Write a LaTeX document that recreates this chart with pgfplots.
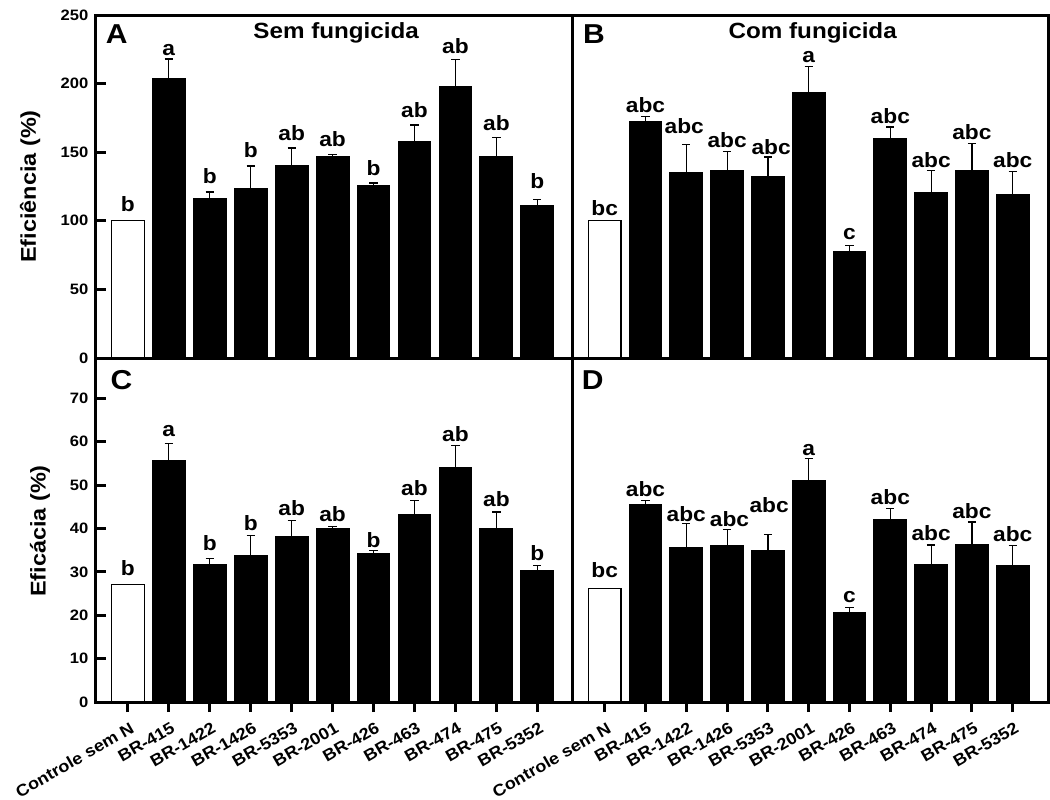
\documentclass[border=0pt]{standalone}
\usepackage{pgfplots}
\pgfplotsset{compat=1.18}
\usepackage{pgfplotstable}
\usepackage{fontspec}
\setmainfont[FakeStretch=1.1]{Liberation Sans}

% Controle sem N (x, value) for each panel
\pgfplotstableread{
x v
0 100
}\ctlA
\pgfplotstableread{
x v
0 100
}\ctlB
\pgfplotstableread{
x v
0 27.1
}\ctlC
\pgfplotstableread{
x v
0 26.2
}\ctlD

% Sem fungicida: eficiência (%)
\pgfplotstableread{
x v e
1 204 14
2 116 5
3 123.5 16.5
4 140 13
5 147 1.5
6 125.5 2
7 157.5 12.3
8 198 19.3
9 146.5 14
10 111.3 4
}\tabA
% Com fungicida: eficiência (%)
\pgfplotstableread{
x v e
1 172.5 3.5
2 135 20.7
3 136.4 14.2
4 132.4 14.1
5 193.2 19
6 77.7 4.4
7 159.6 8.8
8 120.4 16
9 136.7 19.9
10 119.4 16.8
}\tabB
% Sem fungicida: eficácia (%)
\pgfplotstableread{
x v e
1 55.7 3.8
2 31.7 1.4
3 33.7 4.6
4 38.1 3.7
5 40 0.5
6 34.3 0.6
7 43.2 3.2
8 54 5.2
9 39.9 3.9
10 30.4 1
}\tabC
% Com fungicida: eficácia (%)
\pgfplotstableread{
x v e
1 45.6 0.9
2 35.7 5.5
3 36 3.8
4 35 3.7
5 51 5.2
6 20.6 1.2
7 42.1 2.5
8 31.8 4.4
9 36.2 5.3
10 31.5 4.5
}\tabD

\tikzset{
  sig/.style={anchor=base, inner sep=0pt, font=\bfseries\fontsize{15.5}{17}\selectfont},
  ttl/.style={font=\bfseries\fontsize{16.5}{18}\selectfont},
  lett/.style={font=\bfseries\fontsize{20.5}{22}\selectfont},
}

\pgfplotsset{
  panel/.style={
    scale only axis,
    xmin=-0.785, xmax=10.865, ymin=0,
    axis line style={line width=2.25pt, black},
    tick style={line width=2.25pt, black},
    major tick length=7.5pt,
    xtick align=outside, ytick align=inside,
    xtick pos=bottom, ytick pos=left,
    tick label style={font=\bfseries\fontsize{11.3}{13}\selectfont, black},
    yticklabel style={xshift=-2pt},
    /pgf/number format/assume math mode=true,
    clip=false,
    every axis y label/.style={rotate=90, anchor=center,
      font=\bfseries\fontsize{16}{18}\selectfont},
  },
  barsctl/.style={ybar, bar width=0.8, bar shift=0pt, fill=white, draw=black,
    line width=0.8pt},
  barsbr/.style={ybar, bar width=0.8, bar shift=0pt, fill=black, draw=black,
    line width=0.8pt,
    error bars/.cd, y dir=plus, y explicit,
    error bar style={line width=0.9pt, black},
    error mark options={rotate=90, mark size=3.1pt, line width=0.9pt, black}},
  cats/.style={
    xtick={0,...,10},
    xticklabels={Controle sem N,BR-415,BR-1422,BR-1426,BR-5353,BR-2001,BR-426,BR-463,BR-474,BR-475,BR-5352},
    xticklabel style={rotate=30, anchor=north east, yshift=-3pt, xshift=1pt,
      font=\bfseries\fontsize{12.3}{14}\selectfont},
  },
}

\begin{document}
\begin{tikzpicture}
\useasboundingbox (0,0) rectangle (787.5pt,-600pt);

% A
\begin{axis}[panel, at={(71.8pt,-11.25pt)}, anchor=north west,
  width=357.75pt, height=257.25pt, ymax=250, ytick={0,50,...,250}, xtick=\empty,
  ylabel={Eficiência (\%)},
  every axis y label/.append style={at={(axis description cs:-0.1377,0.5)}}]
\addplot[barsctl] table[x=x, y=v] {\ctlA};
\addplot[barsbr] table[x=x, y=v, y error=e] {\tabA};
\node[lett] at (rel axis cs:0.044,0.945) {A};
\node[ttl] at (rel axis cs:0.504,0.948) {Sem fungicida};
\node[sig] at (axis cs:0,107) {b};
\node[sig] at (axis cs:1,220.8) {a};
\node[sig] at (axis cs:2,127) {b};
\node[sig] at (axis cs:3,146.4) {b};
\node[sig] at (axis cs:4,158.6) {ab};
\node[sig] at (axis cs:5,154.2) {ab};
\node[sig] at (axis cs:6,133) {b};
\node[sig] at (axis cs:7,175.2) {ab};
\node[sig] at (axis cs:8,222) {ab};
\node[sig] at (axis cs:9,166) {ab};
\node[sig] at (axis cs:10,123.3) {b};
\end{axis}

% B
\begin{axis}[panel, at={(429.5pt,-11.25pt)}, anchor=north west,
  width=356.5pt, height=257.25pt, ymax=250, ytick=\empty, xtick=\empty]
\addplot[barsctl] table[x=x, y=v] {\ctlB};
\addplot[barsbr] table[x=x, y=v, y error=e] {\tabB};
\node[lett] at (rel axis cs:0.045,0.943) {B};
\node[ttl] at (rel axis cs:0.505,0.948) {Com fungicida};
\node[sig] at (axis cs:0,103.8) {bc};
\node[sig] at (axis cs:1,179.3) {abc};
\node[sig] at (axis cs:1.95,163.7) {abc};
\node[sig] at (axis cs:3,153.7) {abc};
\node[sig] at (axis cs:4.08,148.2) {abc};
\node[sig] at (axis cs:5,215.4) {a};
\node[sig] at (axis cs:6,86.3) {c};
\node[sig] at (axis cs:7,170.8) {abc};
\node[sig] at (axis cs:8,139.1) {abc};
\node[sig] at (axis cs:9,159.4) {abc};
\node[sig] at (axis cs:10,139.1) {abc};
\end{axis}

% C
\begin{axis}[panel, cats, at={(71.8pt,-268.5pt)}, anchor=north west,
  width=357.75pt, height=258pt, ymax=79.3, ytick={0,10,...,70},
  ylabel={Eficácia (\%)},
  every axis y label/.append style={at={(axis description cs:-0.117,0.497)}}]
\addplot[barsctl] table[x=x, y=v] {\ctlC};
\addplot[barsbr] table[x=x, y=v, y error=e] {\tabC};
\node[lett] at (rel axis cs:0.054,0.936) {C};
\node[sig] at (axis cs:0,29.2) {b};
\node[sig] at (axis cs:1,61.3) {a};
\node[sig] at (axis cs:2,35) {b};
\node[sig] at (axis cs:3,39.6) {b};
\node[sig] at (axis cs:4,43.1) {ab};
\node[sig] at (axis cs:5,41.5) {ab};
\node[sig] at (axis cs:6,35.6) {b};
\node[sig] at (axis cs:7,47.5) {ab};
\node[sig] at (axis cs:8,60) {ab};
\node[sig] at (axis cs:9,45) {ab};
\node[sig] at (axis cs:10,32.7) {b};
\end{axis}

% D
\begin{axis}[panel, cats, at={(429.5pt,-268.5pt)}, anchor=north west,
  width=356.5pt, height=258pt, ymax=79.3, ytick=\empty]
\addplot[barsctl] table[x=x, y=v] {\ctlD};
\addplot[barsbr] table[x=x, y=v, y error=e] {\tabD};
\node[lett] at (rel axis cs:0.042,0.937) {D};
\node[sig] at (axis cs:0,28.8) {bc};
\node[sig] at (axis cs:1,47.3) {abc};
\node[sig] at (axis cs:2,41.5) {abc};
\node[sig] at (axis cs:3.06,40.5) {abc};
\node[sig] at (axis cs:4.03,43.7) {abc};
\node[sig] at (axis cs:5,56.8) {a};
\node[sig] at (axis cs:6,22.9) {c};
\node[sig] at (axis cs:7,45.6) {abc};
\node[sig] at (axis cs:8,37.2) {abc};
\node[sig] at (axis cs:9,42.3) {abc};
\node[sig] at (axis cs:10,36.9) {abc};
\end{axis}
\end{tikzpicture}
\end{document}
